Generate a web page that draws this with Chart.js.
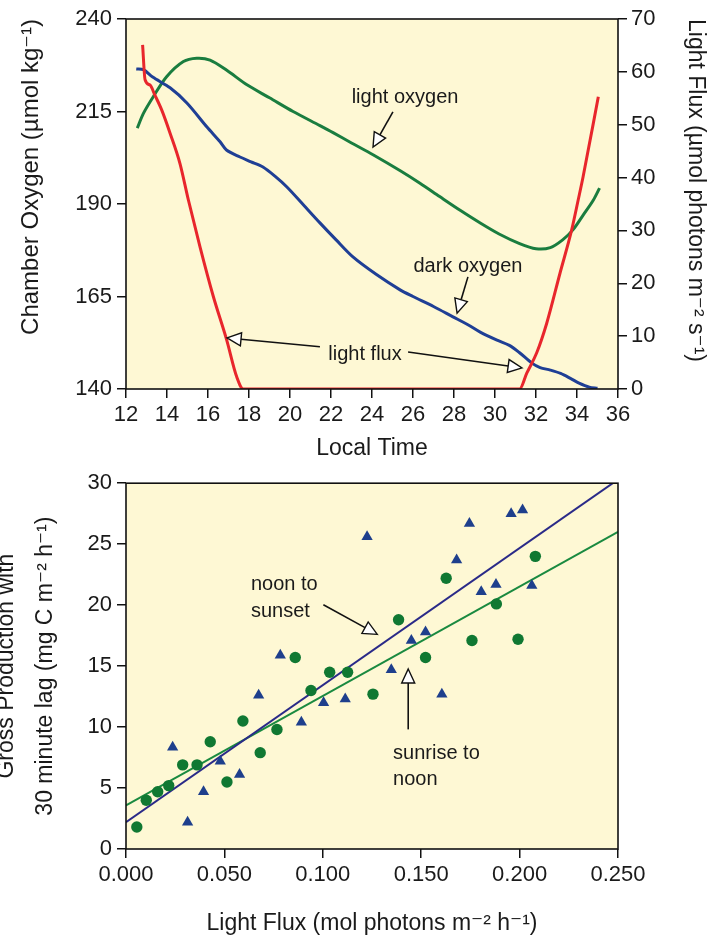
<!DOCTYPE html>
<html><head><meta charset="utf-8">
<script src="https://cdn.jsdelivr.net/npm/chart.js@4.4.1/dist/chart.umd.min.js"></script>
<style>
html,body{margin:0;padding:0;background:#fff;}
#wrap{width:727px;height:937px;position:relative;overflow:hidden;}
canvas{display:block;}
</style></head><body>
<div id="wrap">
<canvas id="topChart" width="727" height="465"></canvas>
<canvas id="bottomChart" width="727" height="472"></canvas>
</div>
<script>
// ---------- Top chart data ----------
const lightOxTime = [12.55, 12.85, 13.33, 13.98, 14.8, 15.45, 16.1, 16.9, 17.9, 19.0, 20.15, 21.46, 22.1, 23.0, 24.05, 25.4, 26.34, 27.3, 28.3, 29.3, 30.2, 31.2, 32.0, 32.7, 33.3, 33.8, 34.3, 34.8, 35.1];
const lightOxygen = [210.5, 214.5, 219.0, 224.4, 228.5, 229.4, 228.9, 226.2, 222.2, 218.7, 215.0, 211.2, 209.3, 206.5, 203.3, 198.9, 195.6, 192.0, 188.3, 184.8, 181.9, 179.3, 177.9, 178.2, 180.3, 183.0, 187.0, 191.1, 194.3];
const darkOxTime = [12.5, 12.85, 13.3, 14.15, 14.97, 15.95, 16.59, 16.9, 17.56, 18.1, 18.68, 19.25, 19.85, 20.65, 21.46, 22.25, 23.07, 24.2, 25.37, 26.0, 27.0, 27.95, 28.7, 29.3, 30.1, 30.7, 31.2, 31.8, 32.2, 32.7, 33.2, 33.7, 34.1, 34.6, 35.0];
const darkOxygen = [226.5, 226.3, 224.3, 221.4, 217.3, 210.8, 206.8, 204.6, 202.7, 201.4, 200.0, 197.6, 194.6, 189.8, 184.9, 180.3, 175.7, 171.0, 166.8, 165.0, 162.3, 159.5, 157.3, 155.3, 153.2, 151.8, 149.8, 147.0, 145.8, 145.1, 144.2, 142.8, 141.6, 140.5, 140.2];
const fluxTime = [12.81, 12.93, 13.17, 13.41, 13.74, 14.15, 14.63, 15.04, 15.61, 16.26, 16.91, 17.4, 17.72, 31.2, 31.55, 32.03, 32.52, 33.17, 33.74, 34.06, 34.3, 35.04];
const lightFlux = [65.1, 58.5, 57.5, 55.6, 52.8, 48.4, 42.7, 35.8, 26.9, 17.5, 9.3, 2.3, 0, 0, 3.0, 6.8, 12.4, 21.9, 30.1, 35.8, 40.2, 55.3];
const timeTicks = [12, 14, 16, 18, 20, 22, 24, 26, 28, 30, 32, 34, 36];
const oxygenTicks = [140, 165, 190, 215, 240];
const fluxTicks = [0, 10, 20, 30, 40, 50, 60, 70];

// ---------- Bottom chart data ----------
const sunriseFlux = [0.0055, 0.0103, 0.0161, 0.0217, 0.0288, 0.0361, 0.0428, 0.0513, 0.0594, 0.0682, 0.0767, 0.086, 0.094, 0.1035, 0.1126, 0.1255, 0.1385, 0.1522, 0.1627, 0.1758, 0.1882, 0.1992, 0.208];
const sunriseGP = [1.8, 4.0, 4.7, 5.2, 6.9, 6.9, 8.8, 5.5, 10.5, 7.9, 9.8, 15.7, 13.0, 14.5, 14.5, 12.7, 18.8, 15.7, 22.2, 17.1, 20.1, 17.2, 24.0];
const noonFlux = [0.0237, 0.0313, 0.0394, 0.0479, 0.0577, 0.0674, 0.0784, 0.0891, 0.1004, 0.1114, 0.1225, 0.1348, 0.145, 0.1522, 0.1605, 0.168, 0.1745, 0.1805, 0.188, 0.1957, 0.2015, 0.2062];
const noonGP = [8.35, 2.2, 4.7, 7.2, 6.1, 12.6, 15.9, 10.4, 12.0, 12.3, 25.6, 14.7, 17.1, 17.8, 12.7, 23.7, 26.7, 21.1, 21.7, 27.5, 27.8, 21.6];
const fitFlux = [0, 0.25];
const sunriseFit = [3.57, 26.0];
const noonFit = [2.2, 30.3];
const gpTicks = [0, 5, 10, 15, 20, 25, 30];
const gpFluxTicks = [0, 0.05, 0.10, 0.15, 0.20, 0.25];
const gpFluxLabels = ['0.000', '0.050', '0.100', '0.150', '0.200', '0.250'];

// ---------- helpers ----------
const FONT = '"Liberation Sans", Arial, "DejaVu Sans", sans-serif';
const TXT = '#1a1a1a';
const zip = (xs, ys) => xs.map((x, i) => ({x: x, y: ys[i]}));
const setTicks = arr => (s => { s.ticks = arr.map(v => ({value: v})); });

const framePlugin = {
  id: 'frame',
  beforeDraw(chart) {
    const a = chart.chartArea, c = chart.ctx;
    c.save(); c.fillStyle = '#fef8d4';
    c.fillRect(a.left, a.top, a.right - a.left, a.bottom - a.top); c.restore();
  },
  afterDatasetsDraw(chart) {
    const a = chart.chartArea, c = chart.ctx;
    c.save(); c.strokeStyle = '#111'; c.lineWidth = 1.6;
    c.strokeRect(a.left, a.top, a.right - a.left, a.bottom - a.top); c.restore();
  }
};

function arrow(c, x1, y1, x2, y2) {
  const a = Math.atan2(y2 - y1, x2 - x1), L = 14, W = 6.5;
  const bx = x2 - L * Math.cos(a), by = y2 - L * Math.sin(a);
  c.strokeStyle = '#111';
  c.beginPath(); c.moveTo(x1, y1); c.lineTo(bx, by); c.lineWidth = 1.6; c.stroke();
  c.beginPath(); c.moveTo(x2, y2);
  c.lineTo(bx - W * Math.sin(a), by + W * Math.cos(a));
  c.lineTo(bx + W * Math.sin(a), by - W * Math.cos(a));
  c.closePath(); c.fillStyle = '#fff'; c.fill(); c.lineWidth = 1.4; c.stroke();
}

function notesPlugin(notes, arrows, yId) {
  return {
    id: 'notes',
    afterDatasetsDraw(chart) {
      const c = chart.ctx, sx = chart.scales.x, sy = chart.scales[yId];
      c.save();
      c.font = '20px ' + FONT; c.fillStyle = TXT; c.textBaseline = 'middle';
      notes.forEach(n => {
        c.textAlign = n.align;
        n.lines.forEach((t, i) => c.fillText(t, sx.getPixelForValue(n.x), sy.getPixelForValue(n.y) + i * n.gap));
      });
      arrows.forEach(r => arrow(c, sx.getPixelForValue(r[0]), sy.getPixelForValue(r[1]), sx.getPixelForValue(r[2]), sy.getPixelForValue(r[3])));
      c.restore();
    }
  };
}

const tickFont = {family: FONT, size: 22};
const titleFont = {family: FONT, size: 23};
const gridOpts = {drawOnChartArea: false, drawTicks: true, tickLength: 9, color: '#111', tickColor: '#111', lineWidth: 1.5};

// ---------- Top chart ----------
const topNotes = [
  {lines: ['light oxygen'], x: 25.61, y: 218.9, align: 'center', gap: 0},
  {lines: ['dark oxygen'], x: 28.68, y: 173.0, align: 'center', gap: 0},
  {lines: ['light flux'], x: 23.66, y: 149.2, align: 'center', gap: 0}
];
const topArrows = [
  [25.02, 214.9, 24.05, 205.4],
  [28.68, 170.3, 28.15, 160.5],
  [21.46, 151.4, 16.93, 153.8],
  [25.76, 150.0, 31.32, 145.7]
];

new Chart(document.getElementById('topChart'), {
  type: 'scatter',
  data: {datasets: [
    {data: zip(fluxTime, lightFlux), yAxisID: 'y2', showLine: true, borderColor: '#e8262c', borderWidth: 3, pointRadius: 0, cubicInterpolationMode: 'monotone', order: 1},
    {data: zip(darkOxTime, darkOxygen), yAxisID: 'y', showLine: true, borderColor: '#1f3f95', borderWidth: 3, pointRadius: 0, tension: 0.3, order: 2},
    {data: zip(lightOxTime, lightOxygen), yAxisID: 'y', showLine: true, borderColor: '#1a7d3f', borderWidth: 3, pointRadius: 0, tension: 0.3, order: 3}
  ]},
  options: {
    responsive: false, animation: false, devicePixelRatio: 1,
    layout: {padding: {top: 19, left: 0, right: 0, bottom: 0}},
    plugins: {legend: {display: false}, tooltip: {enabled: false}},
    scales: {
      x: {type: 'linear', position: 'bottom', min: 12, max: 36,
        afterBuildTicks: setTicks(timeTicks), afterFit: s => { s.height = 76; },
        grid: gridOpts, border: {display: false},
        ticks: {font: tickFont, color: TXT, padding: 4, maxRotation: 0, autoSkip: false},
        title: {display: true, text: 'Local Time', font: titleFont, color: TXT, padding: {top: 0, bottom: 3}}},
      y: {type: 'linear', position: 'left', min: 140, max: 240,
        afterBuildTicks: setTicks(oxygenTicks), afterFit: s => { s.width = 126; },
        grid: gridOpts, border: {display: false},
        ticks: {font: tickFont, color: TXT, padding: 5},
        title: {display: true, align: 'end', text: 'Chamber Oxygen (µmol kg⁻¹)', font: {family: FONT, size: 24}, color: TXT, padding: {top: 17, bottom: 0}}},
      y2: {type: 'linear', position: 'right', min: 0, max: 70,
        afterBuildTicks: setTicks(fluxTicks), afterFit: s => { s.width = 109; },
        grid: gridOpts, border: {display: false},
        ticks: {font: tickFont, color: TXT, padding: 4},
        title: {display: true, align: 'end', text: 'Light Flux (µmol photons m⁻² s⁻¹)', font: titleFont, color: TXT, padding: {top: 18, bottom: 0}}}
    }
  },
  plugins: [framePlugin, notesPlugin(topNotes, topArrows, 'y')]
});

// ---------- Bottom chart ----------
const bottomNotes = [
  {lines: ['noon to', 'sunset'], x: 0.0635, y: 21.73, align: 'left', gap: 27},
  {lines: ['sunrise to', 'noon'], x: 0.1357, y: 7.87, align: 'left', gap: 26}
];
const bottomArrows = [
  [0.1003, 20.03, 0.1277, 17.6],
  [0.1434, 9.81, 0.1434, 14.76]
];

new Chart(document.getElementById('bottomChart'), {
  type: 'scatter',
  data: {datasets: [
    {data: zip(fitFlux, noonFit), showLine: true, borderColor: '#2a2a88', borderWidth: 2, pointRadius: 0, clip: 0, order: 3},
    {data: zip(fitFlux, sunriseFit), showLine: true, borderColor: '#1a8a40', borderWidth: 2, pointRadius: 0, clip: 0, order: 3},
    {data: zip(noonFlux, noonGP), pointStyle: 'triangle', pointRadius: 6.5, pointBackgroundColor: '#1e3f8c', pointBorderColor: '#1e3f8c', pointBorderWidth: 0, order: 1},
    {data: zip(sunriseFlux, sunriseGP), pointStyle: 'circle', pointRadius: 5.7, pointBackgroundColor: '#107832', pointBorderColor: '#107832', pointBorderWidth: 0, order: 1}
  ]},
  options: {
    responsive: false, animation: false, devicePixelRatio: 1,
    layout: {padding: {top: 14, left: 0, right: 109, bottom: 0}},
    plugins: {legend: {display: false}, tooltip: {enabled: false}},
    scales: {
      x: {type: 'linear', position: 'bottom', min: 0, max: 0.25,
        afterBuildTicks: setTicks(gpFluxTicks), afterFit: s => { s.height = 88; },
        grid: gridOpts, border: {display: false},
        ticks: {font: tickFont, color: TXT, padding: 4, maxRotation: 0, autoSkip: false, callback: (v, i) => gpFluxLabels[i]},
        title: {display: true, text: 'Light Flux (mol photons m⁻² h⁻¹)', font: titleFont, color: TXT, padding: {top: 0, bottom: 0}}},
      y: {type: 'linear', position: 'left', min: 0, max: 30,
        afterBuildTicks: setTicks(gpTicks), afterFit: s => { s.width = 126; },
        grid: gridOpts, border: {display: false},
        ticks: {font: tickFont, color: TXT, padding: 5},
        title: {display: true, text: ['Gross Production with', '30 minute lag (mg C m⁻² h⁻¹)'], font: {family: FONT, size: 23, lineHeight: 1.7}, color: TXT, padding: {top: -12.5, bottom: 0}}}
    }
  },
  plugins: [framePlugin, notesPlugin(bottomNotes, bottomArrows, 'y')]
});
</script>
</body></html>
